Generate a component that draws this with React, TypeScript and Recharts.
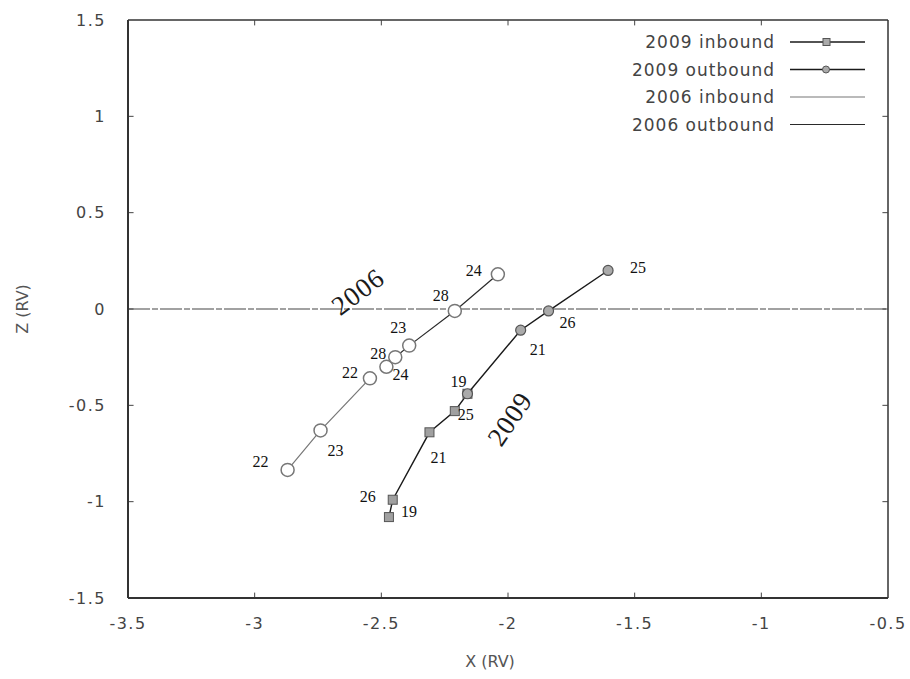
import {
  ScatterChart,
  Scatter,
  XAxis,
  YAxis,
  ReferenceLine,
  ReferenceDot,
  Legend,
} from "recharts";

const X_TICKS = [-3.5, -3, -2.5, -2, -1.5, -1, -0.5];
const Z_TICKS = [-1.5, -1, -0.5, 0, 0.5, 1, 1.5];

// 2009 inbound
const X_2009_IN = [-2.47, -2.455, -2.31, -2.21, -2.16];
const Z_2009_IN = [-1.08, -0.99, -0.64, -0.53, -0.44];
const DAY_2009_IN = ["19", "26", "21", "25", ""];
// 2009 outbound
const X_2009_OUT = [-2.16, -1.95, -1.84, -1.605];
const Z_2009_OUT = [-0.44, -0.11, -0.01, 0.2];
const DAY_2009_OUT = ["19", "21", "26", "25"];
// 2006 inbound
const X_2006_IN = [-2.87, -2.74, -2.545];
const Z_2006_IN = [-0.835, -0.63, -0.36];
const DAY_2006_IN = ["22", "23", "22"];
// 2006 outbound
const X_2006_OUT = [-2.48, -2.445, -2.39, -2.21, -2.04];
const Z_2006_OUT = [-0.3, -0.25, -0.19, -0.01, 0.18];
const DAY_2006_OUT = ["24", "28", "23", "28", "24"];

// offset of each day label from its point (px)
const LBL_2009_IN = [[20, -6], [-25, -3], [9, 25], [11, 3], [0, 0]];
const LBL_2009_OUT = [[-9, -12], [17, 19], [19, 12], [30, -3]];
const LBL_2006_IN = [[-27, -8], [15, 20], [-20, -6]];
const LBL_2006_OUT = [[14, 8], [-17, -4], [-11, -18], [-14, -15], [-24, -4]];

const ANNOTATIONS = [
  { x: -2.592, z: 0.089, text: "2006", angle: -37 },
  { x: -1.992, z: -0.571, text: "2009", angle: -56 },
];

// inward tick length, in axis units
const TICK_X = 0.022;
const TICK_Z = 0.028;

function rows(xs: number[], zs: number[], days: string[], lbl: number[][]) {
  return xs.map((x, i) => ({ x, z: zs[i], day: days[i], dx: lbl[i][0], dy: lbl[i][1] }));
}

const SERIES = [
  { name: "2009 inbound", data: rows(X_2009_IN, Z_2009_IN, DAY_2009_IN, LBL_2009_IN), stroke: "#1a1a1a", width: 1.4, marker: "square" },
  { name: "2009 outbound", data: rows(X_2009_OUT, Z_2009_OUT, DAY_2009_OUT, LBL_2009_OUT), stroke: "#1a1a1a", width: 1.4, marker: "dot" },
  { name: "2006 inbound", data: rows(X_2006_IN, Z_2006_IN, DAY_2006_IN, LBL_2006_IN), stroke: "#777", width: 1.2, marker: "circle" },
  { name: "2006 outbound", data: rows(X_2006_OUT, Z_2006_OUT, DAY_2006_OUT, LBL_2006_OUT), stroke: "#2a2a2a", width: 1.2, marker: "circle" },
];

const SANS = "'DejaVu Sans', sans-serif";
const SERIF = "'Liberation Serif', 'DejaVu Serif', serif";

function Marker({ kind, cx, cy }: { kind: string; cx: number; cy: number }) {
  if (kind === "square")
    return <rect x={cx - 4.5} y={cy - 4.5} width={9} height={9} fill="#a0a0a0" stroke="#555" strokeWidth={1} />;
  if (kind === "dot")
    return <circle cx={cx} cy={cy} r={5} fill="#aaa" stroke="#555" strokeWidth={1.2} />;
  return <circle cx={cx} cy={cy} r={6.5} fill="#fff" stroke="#777" strokeWidth={1.5} />;
}

function makeShape(kind: string) {
  return (p: any) => {
    const { cx, cy, payload } = p;
    return (
      <g>
        <Marker kind={kind} cx={cx} cy={cy} />
        {payload.day ? (
          <text
            x={cx + payload.dx}
            y={cy + payload.dy}
            textAnchor="middle"
            dominantBaseline="central"
            fontFamily={SERIF}
            fontSize={16}
            fill="#111"
          >
            {payload.day}
          </text>
        ) : null}
      </g>
    );
  };
}

function LegendBox() {
  return (
    <svg width={260} height={120}>
      {SERIES.map((s, i) => {
        const y = 14 + i * 27.5;
        return (
          <g key={s.name}>
            <text
              x={155}
              y={y}
              textAnchor="end"
              dominantBaseline="central"
              fontFamily={SANS}
              fontSize={17}
              letterSpacing={1}
              fill="#444"
            >
              {s.name}
            </text>
            <line x1={170} x2={245} y1={y} y2={y} stroke={s.stroke} strokeWidth={s.width} />
            {s.marker !== "circle" ? (
              s.marker === "square" ? (
                <rect x={203} y={y - 3.5} width={7} height={7} fill="#aaa" stroke="#555" />
              ) : (
                <circle cx={206} cy={y} r={3.5} fill="#aaa" stroke="#555" />
              )
            ) : null}
          </g>
        );
      })}
    </svg>
  );
}

const tickStyle = { fontFamily: SANS, fontSize: 16, fill: "#444", letterSpacing: 1.5 };

export default function App() {
  return (
    <div style={{ position: "absolute", left: 0, top: 0, background: "#fff" }}>
      <ScatterChart width={910} height={679} margin={{ top: 20, right: 22, left: 0, bottom: 0 }}>
        <XAxis
          type="number"
          dataKey="x"
          domain={[-3.5, -0.5]}
          ticks={X_TICKS}
          allowDataOverflow
          height={81}
          tickSize={0}
          tickMargin={20}
          tick={tickStyle}
          tickLine={false}
          axisLine={{ stroke: "#333", strokeWidth: 2 }}
          label={{ value: "X (RV)", position: "insideBottom", offset: 12, dx: -18, style: { fontFamily: SANS, fontSize: 16, fill: "#555" } }}
        />
        <YAxis
          type="number"
          dataKey="z"
          domain={[-1.5, 1.5]}
          ticks={Z_TICKS}
          allowDataOverflow
          width={128}
          tickSize={0}
          tickMargin={22}
          tick={tickStyle}
          tickLine={false}
          axisLine={{ stroke: "#333", strokeWidth: 2 }}
          label={{
            value: "Z (RV)",
            angle: -90,
            position: "insideLeft",
            offset: 22,
            style: { fontFamily: SANS, fontSize: 16, fill: "#555", textAnchor: "middle" },
          }}
        />
        {/* frame: top and right */}
        <ReferenceLine y={1.5} stroke="#333" strokeWidth={1.5} />
        <ReferenceLine x={-0.5} stroke="#333" strokeWidth={1.5} />
        {/* inward ticks on all four sides */}
        {X_TICKS.slice(1, -1).map((t) => (
          <ReferenceLine key={`b${t}`} segment={[{ x: t, y: -1.5 }, { x: t, y: -1.5 + TICK_Z }]} stroke="#444" />
        ))}
        {X_TICKS.slice(1, -1).map((t) => (
          <ReferenceLine key={`t${t}`} segment={[{ x: t, y: 1.5 }, { x: t, y: 1.5 - TICK_Z }]} stroke="#444" />
        ))}
        {Z_TICKS.slice(1, -1).map((t) => (
          <ReferenceLine key={`l${t}`} segment={[{ x: -3.5, y: t }, { x: -3.5 + TICK_X, y: t }]} stroke="#444" />
        ))}
        {Z_TICKS.slice(1, -1).map((t) => (
          <ReferenceLine key={`r${t}`} segment={[{ x: -0.5, y: t }, { x: -0.5 - TICK_X, y: t }]} stroke="#444" />
        ))}
        <ReferenceLine y={0} stroke="#444" strokeWidth={1.2} strokeDasharray="22 2 6 2" />
        {SERIES.map((s) => (
          <Scatter
            key={s.name}
            name={s.name}
            data={s.data}
            line={{ stroke: s.stroke, strokeWidth: s.width }}
            lineJointType="linear"
            shape={makeShape(s.marker)}
            isAnimationActive={false}
          />
        ))}
        {ANNOTATIONS.map((a) => (
          <ReferenceDot
            key={a.text}
            x={a.x}
            y={a.z}
            r={0}
            shape={(p: any) => (
              <text
                x={p.cx}
                y={p.cy}
                transform={`rotate(${a.angle} ${p.cx} ${p.cy})`}
                textAnchor="middle"
                dominantBaseline="central"
                fontFamily={SERIF}
                fontSize={27}
                letterSpacing={1}
                fill="#1a1a1a"
              >
                {a.text}
              </text>
            )}
          />
        ))}
        <Legend
          layout="horizontal"
          verticalAlign="middle"
          align="center"
          content={() => <LegendBox />}
          wrapperStyle={{ left: 620, top: 28, width: 260 }}
        />
      </ScatterChart>
    </div>
  );
}
